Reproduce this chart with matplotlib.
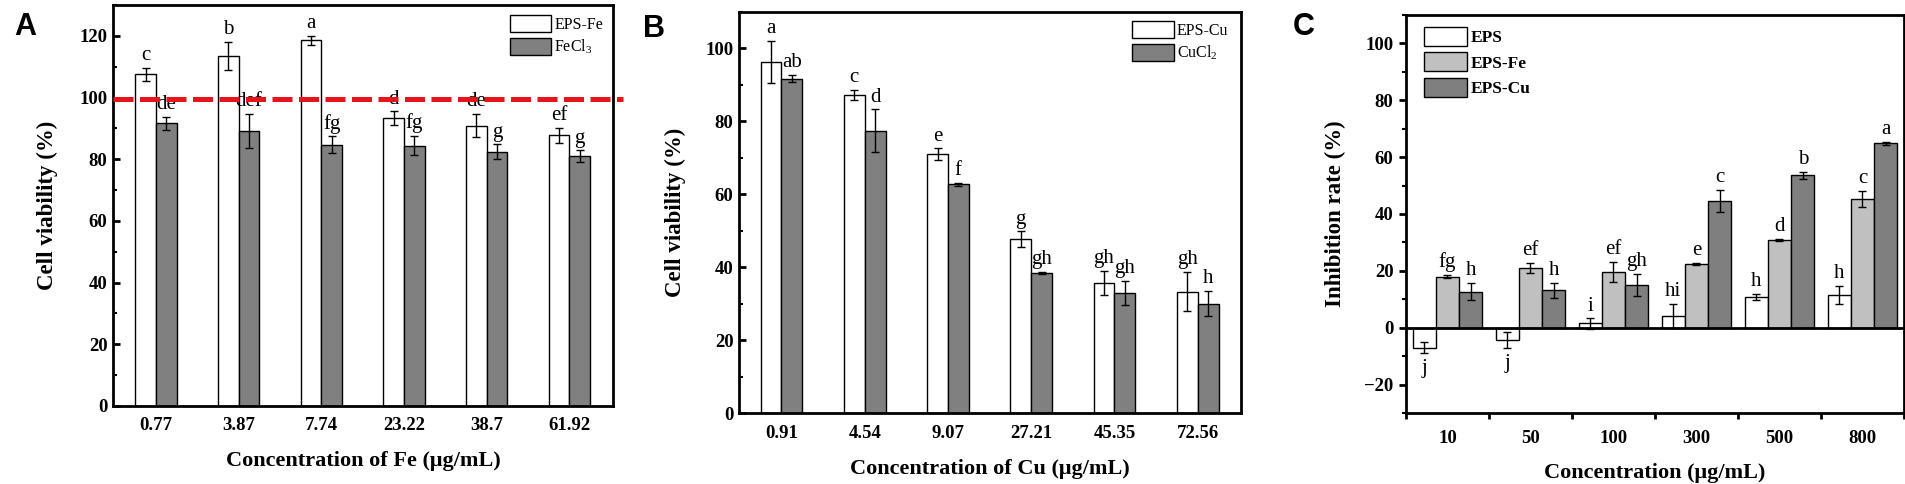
import numpy as np
import matplotlib
matplotlib.use('Agg')
import matplotlib.pyplot as plt
from matplotlib.ticker import MultipleLocator, FixedLocator

plt.rcParams['font.family'] = ['Liberation Serif', 'DejaVu Serif']
plt.rcParams['mathtext.fontset'] = 'custom'
plt.rcParams['mathtext.rm'] = 'Liberation Serif'
plt.rcParams['mathtext.it'] = 'Liberation Serif:italic'
plt.rcParams['mathtext.bf'] = 'Liberation Serif:bold'

# panel A: cell viability with Fe
fe_conc = ['0.77', '3.87', '7.74', '23.22', '38.7', '61.92']
eps_fe = [107.5, 113.5, 118.5, 93.3, 90.9, 87.7]
eps_fe_err = [2.2, 4.5, 1.6, 2.2, 3.8, 2.5]
eps_fe_let = ['c', 'b', 'a', 'd', 'de', 'ef']
fecl3 = [91.6, 89.2, 84.7, 84.4, 82.4, 81.0]
fecl3_err = [2.2, 5.6, 2.7, 3.1, 2.4, 1.9]
fecl3_let = ['de', 'def', 'fg', 'fg', 'g', 'g']

# panel B: cell viability with Cu
cu_conc = ['0.91', '4.54', '9.07', '27.21', '45.35', '72.56']
eps_cu = [96.3, 87.2, 71.0, 47.6, 35.6, 33.3]
eps_cu_err = [5.8, 1.4, 1.6, 2.2, 3.3, 5.4]
eps_cu_let = ['a', 'c', 'e', 'g', 'gh', 'gh']
cucl2 = [91.7, 77.4, 62.7, 38.4, 33.0, 30.0]
cucl2_err = [1.0, 5.9, 0.5, 0.3, 3.3, 3.4]
cucl2_let = ['ab', 'd', 'f', 'gh', 'gh', 'h']

# panel C: inhibition rate
conc = ['10', '50', '100', '300', '500', '800']
inh_eps = [-7.0, -4.3, 1.5, 4.1, 10.8, 11.5]
inh_eps_err = [2.0, 2.9, 1.8, 4.2, 1.0, 3.1]
inh_eps_let = ['j', 'j', 'i', 'hi', 'h', 'h']
inh_fe = [18.0, 21.1, 19.6, 22.5, 30.9, 45.2]
inh_fe_err = [0.5, 1.7, 3.5, 0.4, 0.3, 2.9]
inh_fe_let = ['fg', 'ef', 'ef', 'e', 'd', 'c']
inh_cu = [12.7, 13.1, 15.0, 44.6, 53.6, 64.8]
inh_cu_err = [3.1, 2.8, 3.8, 3.9, 1.2, 0.6]
inh_cu_let = ['h', 'h', 'gh', 'c', 'b', 'a']

W = 1906
H = 484
fig = plt.figure(figsize=(W / 100, H / 100), dpi=100)


def px_axes(x0, y0, x1, y1):
    return fig.add_axes([x0 / W, 1 - y1 / H, (x1 - x0) / W, (y1 - y0) / H])


def bars(ax, x, vals, errs, letters, color, width, label):
    ax.bar(x, vals, width, color=color, edgecolor='black', linewidth=1,
           label=label, zorder=2)
    ax.errorbar(x, vals, yerr=errs, fmt='none', ecolor='black',
                elinewidth=1, capsize=3, capthick=1, zorder=3)
    for xi, v, e, t in zip(x, vals, errs, letters):
        if v >= 0:
            ax.annotate(t, (xi, v + e), xytext=(0, 2), textcoords='offset points',
                        ha='center', va='bottom', fontsize=15, zorder=4)
        else:
            ax.annotate(t, (xi, v - e), xytext=(0, -4), textcoords='offset points',
                        ha='center', va='top', fontsize=15, zorder=4)


def style(ax, tickdir):
    for s in ax.spines.values():
        s.set_linewidth(2)
    ax.yaxis.set_minor_locator(MultipleLocator(10))
    ax.tick_params(axis='y', which='major', direction=tickdir, length=5,
                   width=2, labelsize=13.5, pad=4)
    ax.tick_params(axis='y', which='minor', direction=tickdir, length=3, width=1.5)
    plt.setp(ax.get_yticklabels(), fontweight='bold')


x = np.arange(6)

# ---- A ----
axA = px_axes(113, 5, 613, 406)
bars(axA, x - 0.125, eps_fe, eps_fe_err, eps_fe_let, 'white', 0.25, 'EPS-Fe')
bars(axA, x + 0.125, fecl3, fecl3_err, fecl3_let, '#808080', 0.25, 'FeCl$_3$')
axA.axhline(99.5, xmin=0, xmax=1.02, color='#e8141c', lw=3.6,
            dashes=(4, 1.3), clip_on=False, zorder=5)
axA.set_xlim(-0.52, 5.53)
axA.set_ylim(0, 130)
axA.set_yticks(np.arange(0, 121, 20))
axA.set_xticks(x)
axA.set_xticklabels(fe_conc, fontsize=13.5, fontweight='bold')
axA.tick_params(axis='x', length=0, pad=8)
style(axA, 'in')
axA.set_ylabel('Cell viability (%)', fontsize=16.5, fontweight='bold')
axA.yaxis.set_label_coords(-0.11, 0.5)
axA.set_xlabel('Concentration of Fe (\u03bcg/mL)', fontsize=16, fontweight='bold', labelpad=12)
axA.legend(loc='upper right', bbox_to_anchor=(0.98, 0.975), frameon=False,
           fontsize=11.5, handlelength=2.6, handleheight=1.3, handletextpad=0.2,
           labelspacing=0.3, borderpad=0, borderaxespad=0)

# ---- B ----
axB = px_axes(739, 12, 1241, 413)
bars(axB, x - 0.125, eps_cu, eps_cu_err, eps_cu_let, 'white', 0.25, 'EPS-Cu')
bars(axB, x + 0.125, cucl2, cucl2_err, cucl2_let, '#808080', 0.25, 'CuCl$_2$')
axB.set_xlim(-0.51, 5.52)
axB.set_ylim(0, 110)
axB.set_yticks(np.arange(0, 101, 20))
axB.set_xticks(x)
axB.set_xticklabels(cu_conc, fontsize=13.5, fontweight='bold')
axB.tick_params(axis='x', length=0, pad=9)
style(axB, 'in')
axB.set_ylabel('Cell viability (%)', fontsize=16.5, fontweight='bold')
axB.yaxis.set_label_coords(-0.105, 0.5)
axB.set_xlabel('Concentration of Cu (\u03bcg/mL)', fontsize=16, fontweight='bold', labelpad=12)
axB.legend(loc='upper right', bbox_to_anchor=(0.975, 0.978), frameon=False,
           fontsize=11.5, handlelength=2.6, handleheight=1.3, handletextpad=0.2,
           labelspacing=0.3, borderpad=0, borderaxespad=0)

# ---- C ----
axC = px_axes(1406, 15, 1904, 413)
bw = 0.28
bars(axC, x - bw, inh_eps, inh_eps_err, inh_eps_let, 'white', bw, 'EPS')
bars(axC, x, inh_fe, inh_fe_err, inh_fe_let, '#c0c0c0', bw, 'EPS-Fe')
bars(axC, x + bw, inh_cu, inh_cu_err, inh_cu_let, '#7f7f7f', bw, 'EPS-Cu')
axC.axhline(0, color='black', lw=2, zorder=3)
axC.set_xlim(-0.5, 5.5)
axC.set_ylim(-30, 110)
axC.set_yticks(np.arange(-20, 101, 20))
axC.set_xticks(x)
axC.set_xticklabels(conc, fontsize=13.5, fontweight='bold')
axC.xaxis.set_minor_locator(FixedLocator(np.arange(-0.5, 5.6, 1)))
axC.tick_params(axis='x', which='major', length=0, pad=12)
axC.tick_params(axis='x', which='minor', direction='out', length=4, width=2)
style(axC, 'out')
axC.set_ylabel('Inhibition rate (%)', fontsize=16.5, fontweight='bold')
axC.yaxis.set_label_coords(-0.12, 0.5)
axC.set_xlabel('Concentration (\u03bcg/mL)', fontsize=16, fontweight='bold', labelpad=12)
axC.legend(loc='upper left', bbox_to_anchor=(0.036, 0.97), frameon=False,
           prop={'size': 12.5, 'weight': 'bold'}, handlelength=2.5,
           handleheight=1.3, handletextpad=0.2, labelspacing=0.35,
           borderpad=0, borderaxespad=0)

for lab, px, py in [('A', 14, 12), ('B', 643, 14), ('C', 1293, 12)]:
    fig.text(px / W, 1 - py / H, lab, fontfamily='Liberation Sans',
             fontweight='bold', fontsize=22, va='top', ha='left')

fig.savefig('out.png', dpi=100)
